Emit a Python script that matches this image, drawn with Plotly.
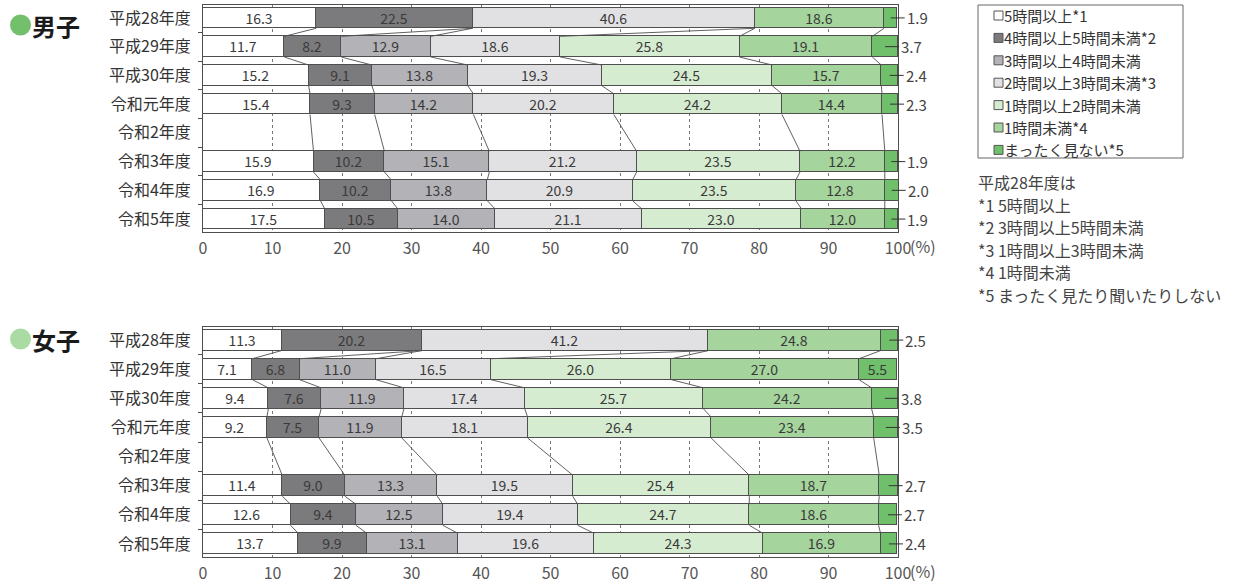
import plotly.graph_objects as go

W, H = 1236, 584
FONT = "Noto Sans CJK JP"

years = ["平成28年度", "平成29年度", "平成30年度", "令和元年度",
         "令和2年度", "令和3年度", "令和4年度", "令和5年度"]

series_names = ["5時間以上*1", "4時間以上5時間未満*2", "3時間以上4時間未満",
                "2時間以上3時間未満*3", "1時間以上2時間未満", "1時間未満*4",
                "まったく見ない*5"]
series_colors = ["#ffffff", "#7b7b7d", "#b2b2b7", "#e1e1e3",
                 "#d6ecd1", "#a5d59d", "#6fbf6b"]

# None: category not used that year (平成28年度) or no survey (令和2年度)
boys_5h_plus = [16.3, 11.7, 15.2, 15.4, None, 15.9, 16.9, 17.5]
boys_4to5h = [22.5, 8.2, 9.1, 9.3, None, 10.2, 10.2, 10.5]
boys_3to4h = [None, 12.9, 13.8, 14.2, None, 15.1, 13.8, 14.0]
boys_2to3h = [40.6, 18.6, 19.3, 20.2, None, 21.2, 20.9, 21.1]
boys_1to2h = [None, 25.8, 24.5, 24.2, None, 23.5, 23.5, 23.0]
boys_under_1h = [18.6, 19.1, 15.7, 14.4, None, 12.2, 12.8, 12.0]
boys_never = [1.9, 3.7, 2.4, 2.3, None, 1.9, 2.0, 1.9]

girls_5h_plus = [11.3, 7.1, 9.4, 9.2, None, 11.4, 12.6, 13.7]
girls_4to5h = [20.2, 6.8, 7.6, 7.5, None, 9.0, 9.4, 9.9]
girls_3to4h = [None, 11.0, 11.9, 11.9, None, 13.3, 12.5, 13.1]
girls_2to3h = [41.2, 16.5, 17.4, 18.1, None, 19.5, 19.4, 19.6]
girls_1to2h = [None, 26.0, 25.7, 26.4, None, 25.4, 24.7, 24.3]
girls_under_1h = [24.8, 27.0, 24.2, 23.4, None, 18.7, 18.6, 16.9]
girls_never = [2.5, 5.5, 3.8, 3.5, None, 2.7, 2.7, 2.4]

boys = [boys_5h_plus, boys_4to5h, boys_3to4h, boys_2to3h,
        boys_1to2h, boys_under_1h, boys_never]
girls = [girls_5h_plus, girls_4to5h, girls_3to4h, girls_2to3h,
         girls_1to2h, girls_under_1h, girls_never]

notes = ["平成28年度は", "*1 5時間以上", "*2 3時間以上5時間未満",
         "*3 1時間以上3時間未満", "*4 1時間未満", "*5 まったく見たり聞いたりしない"]

x_ticks = list(range(0, 101, 10))
BAR_W = 0.72
SMALL = 5.0  # values below this are labelled outside the bar
TEXT_COLOR = "#3a3a3a"
LINE_COLOR = "#4f4f4f"


def px_x(p):
    return p / W


def px_y(p):
    return 1 - p / H


fig = go.Figure()
annotations = []
shapes = []


def add_panel(data, xa, ya, title, dot_color, bottom_px, title_y):
    rows = list(range(len(years)))
    # stacked segments
    for k, vals in enumerate(data):
        texts = []
        for v in vals:
            if v is None or (k == len(data) - 1 and v < SMALL):
                texts.append("")
            else:
                texts.append(f"{v:.1f}")
        fig.add_trace(go.Bar(
            x=vals, y=rows, orientation="h", width=BAR_W,
            name=series_names[k], showlegend=False,
            marker=dict(color=series_colors[k],
                        line=dict(color=LINE_COLOR, width=1)),
            text=texts, textposition="inside", insidetextanchor="middle",
            textangle=0, constraintext="none",
            textfont=dict(family=FONT, size=14, color=TEXT_COLOR),
            hoverinfo="skip", xaxis=xa, yaxis=ya,
        ))

    # cumulative boundaries of each row
    cum = []
    for r in rows:
        vals = [data[k][r] for k in range(len(data))]
        if all(v is None for v in vals):
            cum.append(None)
            continue
        acc, c = 0.0, []
        for v in vals:
            acc += v or 0.0
            c.append(acc)
        cum.append(c)

    # connector lines between consecutive surveyed rows
    cx, cy = [], []
    filled = [r for r in rows if cum[r] is not None]
    for a, b in zip(filled[:-1], filled[1:]):
        for k in range(len(data) - 1):
            cx += [cum[a][k], cum[b][k], None]
            cy += [a + BAR_W / 2, b - BAR_W / 2, None]
    fig.add_trace(go.Scatter(
        x=cx, y=cy, mode="lines", showlegend=False, hoverinfo="skip",
        line=dict(color=LINE_COLOR, width=0.9), xaxis=xa, yaxis=ya,
    ))

    # outside labels for the thin last segment
    last = data[-1]
    for r in rows:
        v = last[r]
        if v is None or v >= SMALL:
            continue
        annotations.append(dict(
            x=cum[r][-2] + v / 2, y=r, xref=xa, yref=ya,
            text=f"{v:.1f}", showarrow=True, arrowhead=0, arrowwidth=1,
            arrowcolor="#333", ax=14, ay=0, xanchor="left",
            font=dict(family=FONT, size=15, color="#444"),
        ))

    # percent unit after the 100 tick
    annotations.append(dict(
        x=100, y=px_y(bottom_px + 14), xref=xa, yref="paper",
        text="(%)", showarrow=False, xanchor="left", xshift=10,
        yanchor="middle", font=dict(family=FONT, size=16, color="#555"),
    ))

    # panel title
    shapes.append(dict(
        type="circle", xref="paper", yref="paper",
        x0=px_x(10), x1=px_x(31), y0=px_y(title_y + 10.5), y1=px_y(title_y - 10.5),
        fillcolor=dot_color, line=dict(width=0),
    ))
    annotations.append(dict(
        x=px_x(30), y=px_y(title_y), xref="paper", yref="paper",
        text=f"<b>{title}</b>", showarrow=False, xanchor="left",
        yanchor="middle", font=dict(family=FONT, size=24, color="#1a1a1a"),
    ))


add_panel(boys, "x", "y", "男子", "#72c06c", 232, 25)
add_panel(girls, "x2", "y2", "女子", "#aadba3", 557, 339)


def x_axis(anchor):
    return dict(
        domain=[px_x(203), px_x(898)], range=[0, 100], anchor=anchor,
        tickmode="array", tickvals=x_ticks, ticktext=[str(t) for t in x_ticks],
        ticks="", ticklabelstandoff=2, automargin=False,
        tickfont=dict(family=FONT, size=16, color="#555"),
        showgrid=True, gridcolor="#777", gridwidth=1, griddash="3px,3px",
        showline=True, linecolor=LINE_COLOR, linewidth=1, mirror=True,
        zeroline=False, fixedrange=True,
    )


def y_axis(top_px, bottom_px, anchor):
    return dict(
        domain=[px_y(bottom_px), px_y(top_px)],
        range=[len(years) - 1 + 0.45, -0.45], anchor=anchor,
        tickmode="array", tickvals=list(range(len(years))), ticktext=years,
        ticks="", ticklabelstandoff=8, automargin=False,
        tickfont=dict(family=FONT, size=16, color="#333"),
        minor=dict(tickmode="array",
                   tickvals=[i + 0.5 for i in range(len(years) - 1)],
                   ticks="outside", ticklen=4, tickcolor=LINE_COLOR, showgrid=False),
        showgrid=False, showline=True, linecolor=LINE_COLOR, linewidth=1,
        mirror=True, zeroline=False, fixedrange=True,
    )


# legend box
LEG_X0, LEG_X1, LEG_Y0, LEG_Y1 = 978, 1183, 5, 158
shapes.append(dict(type="rect", xref="paper", yref="paper",
                   x0=px_x(LEG_X0), x1=px_x(LEG_X1), y0=px_y(LEG_Y1), y1=px_y(LEG_Y0),
                   line=dict(color="#666", width=1), fillcolor="rgba(0,0,0,0)"))
for i, (name, col) in enumerate(zip(series_names, series_colors)):
    cy = 15.5 + i * 22.4
    shapes.append(dict(type="rect", xref="paper", yref="paper",
                       x0=px_x(994), x1=px_x(1003), y0=px_y(cy + 4.5), y1=px_y(cy - 4.5),
                       fillcolor=col, line=dict(color="#555", width=1)))
    annotations.append(dict(
        x=px_x(1002), y=px_y(cy), xref="paper", yref="paper", text=name,
        showarrow=False, xanchor="left", yanchor="middle",
        font=dict(family=FONT, size=15, color="#333"),
    ))

for i, line in enumerate(notes):
    annotations.append(dict(
        x=px_x(976), y=px_y(182 + i * 22.5), xref="paper", yref="paper", text=line,
        showarrow=False, xanchor="left", yanchor="middle",
        font=dict(family=FONT, size=16, color="#444"),
    ))

fig.update_layout(
    width=W, height=H, margin=dict(l=0, r=0, t=0, b=0, autoexpand=False),
    autosize=False,
    paper_bgcolor="white", plot_bgcolor="white",
    barmode="stack", bargap=0, showlegend=False,
    uniformtext=dict(mode="show", minsize=14),
    font=dict(family=FONT, color="#333"),
    xaxis=x_axis("y"), yaxis=y_axis(5, 232, "x"),
    xaxis2=x_axis("y2"), yaxis2=y_axis(327, 557, "x2"),
    annotations=annotations, shapes=shapes,
)

fig.write_html(
    "out.html",
    config={"responsive": False, "displayModeBar": False},
    post_script="document.body.style.margin='0';document.body.style.overflow='hidden';",
)
